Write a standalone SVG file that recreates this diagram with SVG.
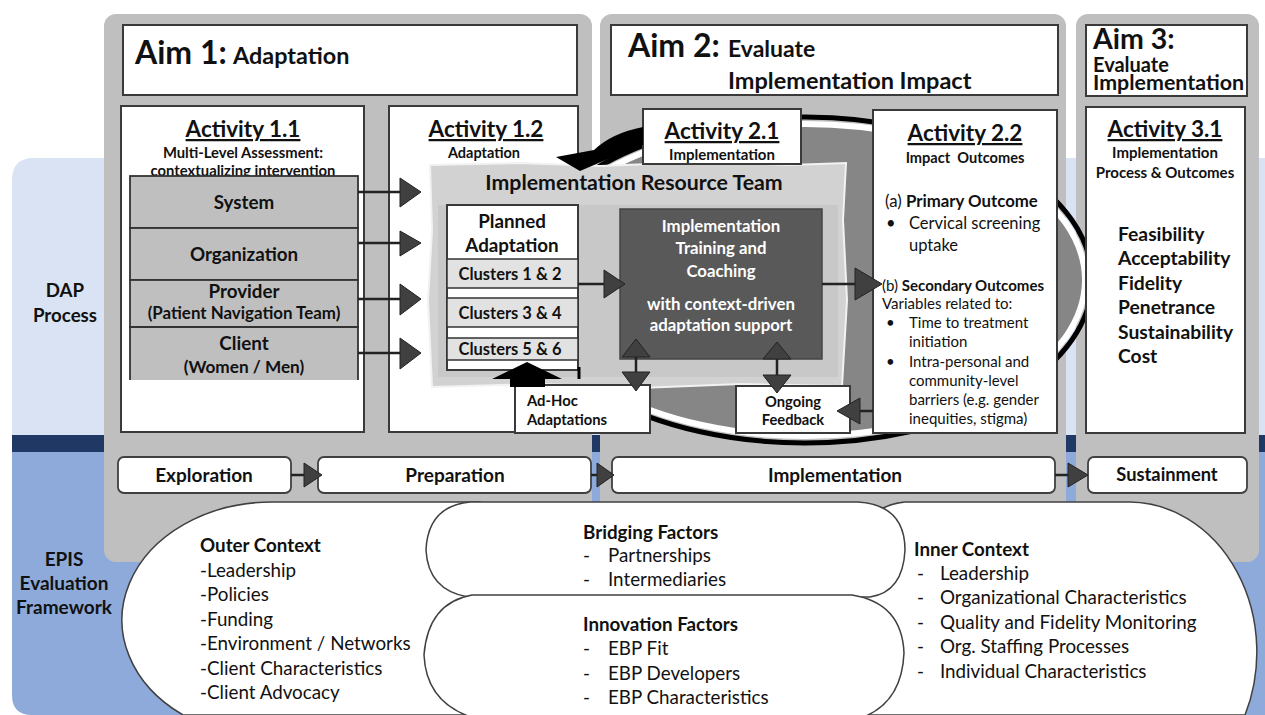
<svg xmlns="http://www.w3.org/2000/svg" width="1265" height="715" viewBox="0 0 1265 715">
<style>
text{font-family:Lato,"Liberation Sans",sans-serif;fill:#111}
.b{font-weight:bold}
.u{text-decoration:underline}
.c{text-anchor:middle}
.w{fill:#fff}
.box{fill:#fff;stroke:#3a3a3a;stroke-width:2}
.panel{fill:#bfbfbf}
.lvl{fill:#bfbfbf;stroke:#333;stroke-width:1.8}
.cl{fill:#e2e2e2;stroke:#333;stroke-width:1.5}
.ah{fill:#404040;stroke:#222;stroke-width:1}
.ln{stroke:#222;stroke-width:2.5;fill:none}
.ph{fill:#fff;stroke:#404040;stroke-width:1.8}
.ctx{fill:#fff;stroke:#404040;stroke-width:1.5}
.f{font-size:18.8px}
</style>
<g id="background">
<path d="M12 180 Q12 158 34 158 H1265 V435 H12 Z" fill="#dae3f3"/>
<rect x="12" y="435" width="1253" height="17" fill="#1f3864"/>
<path d="M12 452 H1265 V715 H32 Q12 715 12 695 Z" fill="#8eaadb"/>
<rect x="104" y="14" width="488" height="548" rx="12" class="panel"/>
<rect x="600" y="14" width="466" height="548" rx="12" class="panel"/>
<rect x="1076" y="14" width="183" height="548" rx="12" class="panel"/>
</g>
<g id="labels">
<text x="65" y="297" class="b c" font-size="18.7">DAP</text>
<text x="65" y="322" class="b c" font-size="18.7">Process</text>
<text x="64" y="566" class="b c" font-size="19">EPIS</text>
<text x="64" y="590" class="b c" font-size="19">Evaluation</text>
<text x="64" y="614" class="b c" font-size="19">Framework</text>
</g>
<g id="cycle">
<ellipse cx="805" cy="280" rx="287" ry="163" fill="none" stroke="#000" stroke-width="5"/>
<ellipse cx="805" cy="280" rx="280" ry="156" fill="#868686" stroke="#fff" stroke-width="6"/>
</g>
<g id="aim1">
<rect x="123" y="25" width="454" height="70" class="box"/>
<text x="135" y="64" class="b" font-size="32">Aim 1:</text>
<text x="233" y="64" class="b" font-size="23.4">Adaptation</text>
</g>
<g id="aim2">
<rect x="611" y="25" width="447" height="70" class="box"/>
<text x="628" y="57" class="b" font-size="32">Aim 2:</text>
<text x="728" y="57" class="b" font-size="23">Evaluate</text>
<text x="728" y="89" class="b" font-size="23.5">Implementation Impact</text>
</g>
<g id="aim3">
<rect x="1086" y="25" width="161" height="71" class="box"/>
<text x="1093" y="49" class="b" font-size="28.5">Aim 3:</text>
<text x="1093" y="72" class="b" font-size="20">Evaluate</text>
<text x="1093" y="90" class="b" font-size="20" textLength="151" lengthAdjust="spacingAndGlyphs">Implementation</text>
</g>
<g id="activity-1-1">
<rect x="121" y="106" width="243" height="326" class="box"/>
<text x="243" y="137" class="b u c" font-size="22.5">Activity 1.1</text>
<text x="243" y="158" class="b c" font-size="14.8">Multi-Level Assessment:</text>
<text x="243" y="176" class="b c" font-size="14.8">contextualizing intervention</text>
</g>
<g id="level-system">
<rect x="130" y="176" width="228" height="52" class="lvl"/>
<text x="244" y="209" class="b c" font-size="18.8">System</text>
</g>
<g id="level-organization">
<rect x="130" y="228" width="228" height="52" class="lvl"/>
<text x="244" y="261" class="b c" font-size="18.8">Organization</text>
</g>
<g id="level-provider">
<rect x="130" y="280" width="228" height="47" class="lvl"/>
<text x="244" y="298" class="b c" font-size="18.8">Provider</text>
<text x="244" y="319" class="b c" font-size="16.9">(Patient Navigation Team)</text>
</g>
<g id="level-client">
<path d="M130 380 V327 H358 V380" fill="#bfbfbf" stroke="#333" stroke-width="1.8"/>
<text x="244" y="350" class="b c" font-size="18.8">Client</text>
<text x="244" y="373" class="b c" font-size="17.2">(Women / Men)</text>
</g>
<g id="activity-1-2">
<rect x="389" y="106" width="189" height="326" class="box"/>
<text x="486" y="137" class="b u c" font-size="22.5">Activity 1.2</text>
<text x="484" y="158" class="b c" font-size="14.5">Adaptation</text>
</g>
<g id="activity-2-2">
<rect x="873" y="110" width="184" height="323" class="box"/>
<text x="965" y="141" class="b u c" font-size="22.5">Activity 2.2</text>
<text x="965" y="163" class="b c" font-size="14.6" xml:space="preserve">Impact  Outcomes</text>
<text x="885" y="207" font-size="16.8">(a) <tspan class="b">Primary Outcome</tspan></text>
<text x="886" y="229" font-size="16.5">•</text>
<text x="909" y="229" font-size="16.5">Cervical screening</text>
<text x="909" y="251" font-size="16.5">uptake</text>
<text x="882" y="291" font-size="15">(b) <tspan class="b">Secondary Outcomes</tspan></text>
<text x="882" y="309" font-size="15">Variables related to:</text>
<text x="886" y="328" font-size="15">•</text>
<text x="909" y="328" font-size="15">Time to treatment</text>
<text x="909" y="347" font-size="15">initiation</text>
<text x="886" y="367" font-size="15">•</text>
<text x="909" y="367" font-size="15">Intra-personal and</text>
<text x="909" y="386" font-size="15">community-level</text>
<text x="909" y="405" font-size="15">barriers (e.g. gender</text>
<text x="909" y="424" font-size="15">inequities, stigma)</text>
</g>
<g id="activity-3-1">
<rect x="1086" y="107" width="159" height="326" class="box"/>
<text x="1165" y="137" class="b u c" font-size="22.5">Activity 3.1</text>
<text x="1165" y="158" class="b c" font-size="15">Implementation</text>
<text x="1165" y="178" class="b c" font-size="15">Process &amp; Outcomes</text>
<text x="1118" y="241" class="b" font-size="19.3">Feasibility</text>
<text x="1118" y="265" class="b" font-size="19.3">Acceptability</text>
<text x="1118" y="290" class="b" font-size="19.3">Fidelity</text>
<text x="1118" y="314" class="b" font-size="19.3">Penetrance</text>
<text x="1118" y="339" class="b" font-size="19.3">Sustainability</text>
<text x="1118" y="363" class="b" font-size="19.3">Cost</text>
</g>
<g id="implementation-resource-team">
<path d="M430 165 L520 163 L600 166 L700 162 L790 165 L846 163 L843 220 L847 300 L842 386 L740 384 L640 388 L540 384 L432 387 L428 300 L432 230 Z" fill="#d2d2d2" stroke="#f2f2f2" stroke-width="2"/>
<rect x="438" y="205" width="400" height="172" fill="#c8c8c8"/>
<text x="634" y="190" class="b c" font-size="21.3">Implementation Resource Team</text>
</g>
<g id="planned-adaptation">
<rect x="447" y="205" width="131" height="165" class="box" stroke-width="1.5"/>
<text x="512" y="228" class="b c" font-size="18.8">Planned</text>
<text x="512" y="252" class="b c" font-size="18.8">Adaptation</text>
<rect x="447" y="259" width="131" height="29" class="cl"/>
<text x="510" y="280" class="b c" font-size="16.5">Clusters 1 &amp; 2</text>
<rect x="447" y="298" width="131" height="29" class="cl"/>
<text x="510" y="319" class="b c" font-size="16.5">Clusters 3 &amp; 4</text>
<rect x="447" y="338" width="131" height="22" class="cl"/>
<text x="510" y="355" class="b c" font-size="16.5">Clusters 5 &amp; 6</text>
<line x1="579" y1="367" x2="579" y2="379" stroke="#000" stroke-width="3"/>
</g>
<g id="training-coaching">
<rect x="620" y="209" width="202" height="150" fill="#595959" stroke="#444" stroke-width="1.5"/>
<text x="721" y="232" class="b c w" font-size="16.8">Implementation</text>
<text x="721" y="254" class="b c w" font-size="16.8">Training and</text>
<text x="721" y="277" class="b c w" font-size="16.8">Coaching</text>
<text x="721" y="310" class="b c w" font-size="16.8">with context-driven</text>
<text x="721" y="331" class="b c w" font-size="16.8">adaptation support</text>
</g>
<g id="activity-2-1">
<rect x="643" y="109" width="158" height="55" class="box"/>
<text x="722" y="139" class="b u c" font-size="22.5">Activity 2.1</text>
<text x="722" y="160" class="b c" font-size="15">Implementation</text>
</g>
<g id="ad-hoc-adaptations">
<rect x="515" y="385" width="135" height="48" class="box" stroke-width="1.5"/>
<text x="527" y="406" class="b" font-size="14.8">Ad-Hoc</text>
<text x="527" y="425" class="b" font-size="14.8">Adaptations</text>
</g>
<g id="ongoing-feedback">
<rect x="736" y="386" width="114" height="47" class="box" stroke-width="1.5"/>
<text x="793" y="407" class="b c" font-size="14.7">Ongoing</text>
<text x="793" y="425" class="b c" font-size="14.7">Feedback</text>
</g>
<g id="connectors">
<line x1="358" y1="192" x2="402" y2="192" class="ln"/>
<polygon points="400,178 421,192 400,207" class="ah"/>
<line x1="358" y1="243" x2="402" y2="243" class="ln"/>
<polygon points="400,231 421,243 400,256" class="ah"/>
<line x1="358" y1="299" x2="402" y2="299" class="ln"/>
<polygon points="400,284 421,299 400,315" class="ah"/>
<line x1="358" y1="353" x2="402" y2="353" class="ln"/>
<polygon points="400,338 421,353 400,369" class="ah"/>
<line x1="578" y1="284" x2="606" y2="284" class="ln"/>
<polygon points="604,270 625,284 604,298" class="ah"/>
<line x1="822" y1="284" x2="858" y2="284" class="ln"/>
<polygon points="855,268 882,284 855,300" class="ah"/>
<line x1="636" y1="352" x2="636" y2="376" class="ln"/>
<polygon points="636,339 622,357 650,357" class="ah"/>
<polygon points="622,372 650,372 636,391" class="ah"/>
<line x1="777" y1="355" x2="777" y2="378" class="ln"/>
<polygon points="777,342 763,359 791,359" class="ah"/>
<polygon points="763,375 791,375 777,393" class="ah"/>
<line x1="873" y1="411" x2="858" y2="411" class="ln"/>
<polygon points="860,398 837,411 860,424" class="ah"/>
<path d="M643 127 Q612 133 594 150 L556 157 L580 171 L622 153 Q631 147 643 145 Z" fill="#000"/>
<polygon points="527,362 562,379 545,379 545,387 510,387 510,379 492,379" fill="#000"/>
</g>
<g id="phase-exploration">
<rect x="118" y="457" width="173" height="36" rx="6" class="ph"/>
<text x="204" y="482" class="b c" font-size="19">Exploration</text>
</g>
<g id="phase-preparation">
<rect x="318" y="457" width="273" height="36" rx="6" class="ph"/>
<text x="455" y="482" class="b c" font-size="19">Preparation</text>
</g>
<g id="phase-implementation">
<rect x="612" y="457" width="443" height="36" rx="6" class="ph"/>
<text x="835" y="482" class="b c" font-size="19">Implementation</text>
</g>
<g id="phase-sustainment">
<rect x="1088" y="457" width="159" height="36" rx="6" class="ph"/>
<text x="1167" y="481" class="b c" font-size="18.3">Sustainment</text>
</g>
<g id="phase-arrows">
<line x1="291" y1="475" x2="306" y2="475" class="ln"/>
<polygon points="304,463 322,475 304,487" class="ah"/>
<line x1="591" y1="475" x2="599" y2="475" class="ln"/>
<polygon points="597,463 614,475 597,487" class="ah"/>
<line x1="1055" y1="475" x2="1070" y2="475" class="ln"/>
<polygon points="1068,463 1088,475 1068,487" class="ah"/>
</g>
<g id="outer-context">
<path d="M480 502 H272 A150 118 0 0 0 183 715 H480 Z" class="ctx"/>
<text x="200" y="552" class="b f">Outer Context</text>
<text x="200" y="577" class="f">-Leadership</text>
<text x="200" y="601" class="f">-Policies</text>
<text x="200" y="626" class="f">-Funding</text>
<text x="200" y="650" class="f">-Environment / Networks</text>
<text x="200" y="675" class="f">-Client Characteristics</text>
<text x="200" y="699" class="f">-Client Advocacy</text>
</g>
<g id="inner-context">
<path d="M1130 502 A128 150 0 0 1 1245 715 H855 L858 540 Q870 505 905 502 Z" class="ctx"/>
<text x="914" y="556" class="b f">Inner Context</text>
<text x="917" y="580" class="f">-</text>
<text x="940" y="580" class="f">Leadership</text>
<text x="917" y="604" class="f">-</text>
<text x="940" y="604" class="f">Organizational Characteristics</text>
<text x="917" y="629" class="f">-</text>
<text x="940" y="629" class="f">Quality and Fidelity Monitoring</text>
<text x="917" y="653" class="f">-</text>
<text x="940" y="653" class="f">Org. Staffing Processes</text>
<text x="917" y="678" class="f">-</text>
<text x="940" y="678" class="f">Individual Characteristics</text>
</g>
<g id="bridging-factors">
<path d="M470 502 H858 Q905 505 905 550 Q903 592 870 597 H468 Q428 590 426 550 Q428 506 470 502 Z" class="ctx"/>
<text x="583" y="539" class="b f">Bridging Factors</text>
<text x="583" y="562" class="f">-</text>
<text x="608" y="562" class="f">Partnerships</text>
<text x="583" y="586" class="f">-</text>
<text x="608" y="586" class="f">Intermediaries</text>
</g>
<g id="innovation-factors">
<path d="M472 595 H852 Q902 603 904 653 Q902 700 866 716 H468 Q426 700 424 655 Q428 603 472 595 Z" class="ctx"/>
<text x="583" y="631" class="b f">Innovation Factors</text>
<text x="583" y="655" class="f">-</text>
<text x="608" y="655" class="f">EBP Fit</text>
<text x="583" y="680" class="f">-</text>
<text x="608" y="680" class="f">EBP Developers</text>
<text x="583" y="704" class="f">-</text>
<text x="608" y="704" class="f">EBP Characteristics</text>
</g>
</svg>
